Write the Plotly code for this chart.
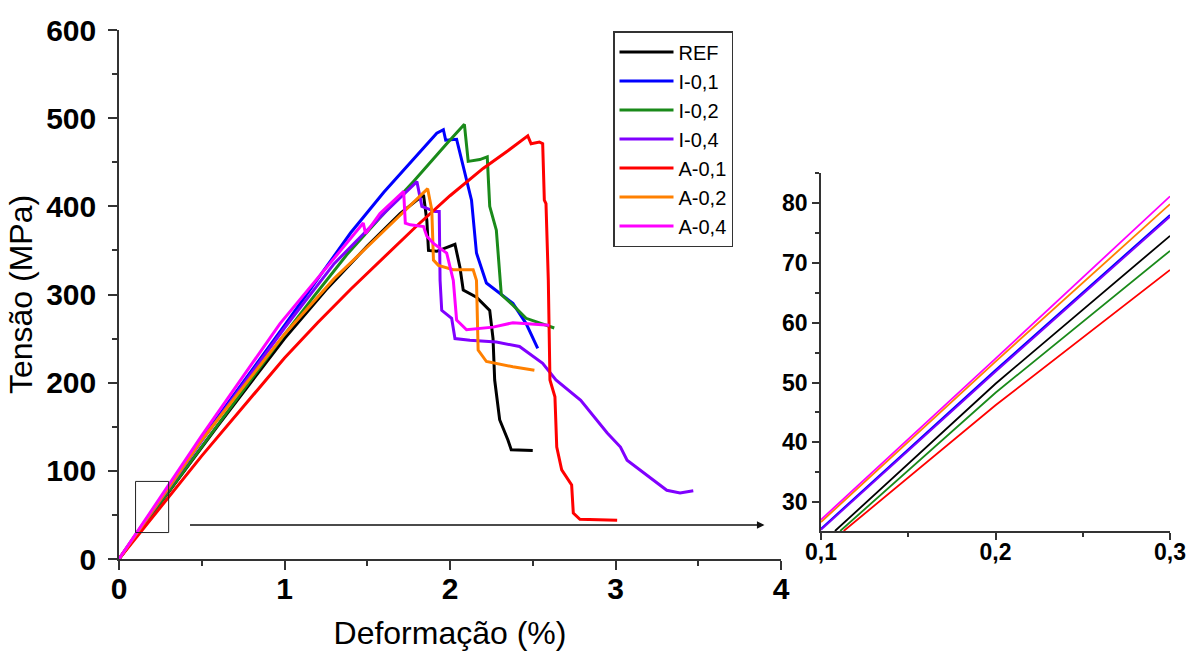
import plotly.graph_objects as go

# ---------------- data ----------------
series_names = ["REF", "I-0,1", "I-0,2", "I-0,4", "A-0,1", "A-0,2", "A-0,4"]
series_colors = ["#000000", "#0000FF", "#1A8A1A", "#8000FF", "#FF0000", "#FF8000", "#FF00FF"]

ref_x = [0, 0.6, 1.0, 1.25, 1.5, 1.7, 1.84, 1.86, 1.87, 1.92, 2.03, 2.06, 2.08, 2.16, 2.24, 2.26, 2.27, 2.30, 2.35, 2.37, 2.50]
ref_y = [0, 152, 250, 305, 355, 392, 413, 384, 350, 349, 357, 331, 305, 297, 282, 250, 203, 158, 135, 124, 123]

i01_x = [0, 0.5, 1.0, 1.2, 1.4, 1.6, 1.8, 1.92, 1.96, 1.974, 2.04, 2.07, 2.13, 2.16, 2.22, 2.38, 2.46, 2.53]
i01_y = [0, 136, 265, 318, 370, 416, 458, 483, 487, 475, 476, 454, 407, 347, 313, 290, 267, 239]

i02_x = [0, 0.5, 0.973, 1.174, 1.376, 1.577, 1.778, 1.98, 2.087, 2.11, 2.18, 2.225, 2.24, 2.28, 2.30, 2.31, 2.38, 2.46, 2.63]
i02_y = [0, 128, 248, 297, 345, 387, 428, 471, 493, 451, 453, 456, 400, 373, 316, 300, 288, 273, 262]

i04_x = [0, 0.5, 1.0, 1.3, 1.6, 1.74, 1.80, 1.83, 1.91, 1.935, 1.94, 1.95, 2.01, 2.03, 2.12, 2.28, 2.42, 2.56, 2.64, 2.79, 2.95, 3.03, 3.07, 3.31, 3.39, 3.47]
i04_y = [0, 134, 262, 335, 392, 418, 428, 400, 394, 394, 316, 282, 273, 250, 248, 246, 241, 222, 203, 180, 143, 127, 112, 78, 75, 77.5]

a01_x = [0, 0.5, 1.0, 1.2, 1.4, 1.6, 1.8, 2.0, 2.2, 2.35, 2.47, 2.49, 2.54, 2.56, 2.57, 2.58, 2.594, 2.604, 2.634, 2.645, 2.675, 2.735, 2.745, 2.785, 3.01]
a01_y = [0, 117, 228, 268, 306, 342, 378, 412, 443, 463, 480, 471, 473, 471, 407, 403, 316, 203, 184, 127, 101, 84, 52, 45, 44]

a02_x = [0, 0.5, 1.0, 1.3, 1.6, 1.865, 1.89, 1.90, 1.93, 2.02, 2.14, 2.16, 2.17, 2.22, 2.38, 2.51]
a02_y = [0, 135, 255, 318, 372, 420, 396, 339, 333, 328, 328, 316, 237, 224, 218, 214]

a04_x = [0, 0.5, 0.973, 1.174, 1.376, 1.476, 1.49, 1.577, 1.72, 1.73, 1.76, 1.84, 1.86, 1.90, 1.98, 2.02, 2.04, 2.10, 2.26, 2.38, 2.60]
a04_y = [0, 140, 267, 313, 358, 381, 369, 392, 417, 381, 379, 377, 366, 358, 347, 316, 271, 260, 263, 268, 265]

# inset (zoom of the initial linear region)
in_ref_x = [0.108, 0.2, 0.3]
in_ref_y = [25.2, 49.8, 74.5]
in_i01_x = [0.1, 0.2, 0.3]
in_i01_y = [25.6, 52.1, 78.0]
in_i02_x = [0.111, 0.2, 0.3]
in_i02_y = [25.2, 48.3, 72.0]
in_i04_x = [0.1, 0.2, 0.3]
in_i04_y = [25.4, 51.8, 77.7]
in_a01_x = [0.113, 0.2, 0.3]
in_a01_y = [25.2, 46.2, 68.8]
in_a02_x = [0.1, 0.2, 0.3]
in_a02_y = [26.7, 53.5, 79.8]
in_a04_x = [0.1, 0.2, 0.3]
in_a04_y = [27.1, 54.0, 81.1]

main_xticks = [0, 1, 2, 3, 4]
main_yticks = [0, 100, 200, 300, 400, 500, 600]
inset_xticks = [0.1, 0.2, 0.3]
inset_xticklabels = ["0,1", "0,2", "0,3"]
inset_yticks = [30, 40, 50, 60, 70, 80]

main_series = [(ref_x, ref_y), (i01_x, i01_y), (i02_x, i02_y), (i04_x, i04_y),
               (a01_x, a01_y), (a02_x, a02_y), (a04_x, a04_y)]
inset_series = [(in_ref_x, in_ref_y), (in_i01_x, in_i01_y), (in_i02_x, in_i02_y), (in_i04_x, in_i04_y),
                (in_a01_x, in_a01_y), (in_a02_x, in_a02_y), (in_a04_x, in_a04_y)]

FONT = "Liberation Sans, Arial, sans-serif"
AX = "#333333"

fig = go.Figure()
for name, col, (xs, ys) in zip(series_names, series_colors, main_series):
    fig.add_trace(go.Scatter(x=xs, y=ys, mode="lines", name=name,
                             line=dict(color=col, width=3), xaxis="x", yaxis="y"))
for name, col, (xs, ys) in zip(series_names, series_colors, inset_series):
    fig.add_trace(go.Scatter(x=xs, y=ys, mode="lines", name=name, showlegend=False,
                             line=dict(color=col, width=1.8), xaxis="x2", yaxis="y2"))

W, H = 1189, 659

common = dict(showgrid=False, zeroline=False, showline=True, linecolor=AX, linewidth=1.5,
              ticks="outside", tickcolor=AX, tickwidth=1.5, automargin=False)

fig.update_layout(
    width=W, height=H,
    margin=dict(l=0, r=0, t=0, b=0),
    paper_bgcolor="white", plot_bgcolor="white",
    template="none",
    font=dict(family=FONT, color="#000000"),
    xaxis=dict(domain=[119 / W, 781 / W], range=[0, 4], tickvals=main_xticks, ticklen=9,
               ticklabelstandoff=-7,
               tickfont=dict(size=30, weight="bold", family=FONT),
               minor=dict(tickvals=[0.5, 1.5, 2.5, 3.5], ticklen=5, ticks="outside", tickcolor=AX, tickwidth=1.5),
               title=dict(text="Deformação (%)", font=dict(size=32, family=FONT), standoff=18),
               anchor="y", **common),
    yaxis=dict(domain=[100 / H, 629 / H], range=[0, 600], tickvals=main_yticks, ticklen=9,
               ticklabelstandoff=6,
               tickfont=dict(size=30, weight="bold", family=FONT),
               minor=dict(tickvals=[50, 150, 250, 350, 450, 550], ticklen=5, ticks="outside", tickcolor=AX, tickwidth=1.5),
               title=dict(text="Tensão (MPa)", font=dict(size=32, family=FONT), standoff=4),
               anchor="x", **common),
    xaxis2=dict(domain=[821 / W, 1170 / W], range=[0.1, 0.3], tickvals=inset_xticks, ticktext=inset_xticklabels,
                ticklen=7, ticklabelstandoff=-7, tickfont=dict(size=23, weight="bold", family=FONT),
                minor=dict(tickvals=[0.15, 0.25], ticklen=4, ticks="outside", tickcolor=AX, tickwidth=1.5),
                anchor="y2", **common),
    yaxis2=dict(domain=[128 / H, 486 / H], range=[25.2, 85], tickvals=inset_yticks,
                ticklen=7, ticklabelstandoff=0, tickfont=dict(size=23, weight="bold", family=FONT),
                minor=dict(tickvals=[35, 45, 55, 65, 75, 85], ticklen=4, ticks="outside", tickcolor=AX, tickwidth=1.5),
                anchor="x2", **common),
    legend=dict(x=613 / W, y=1 - 31 / H, xanchor="left", yanchor="top",
                bordercolor=AX, borderwidth=1.5, bgcolor="white",
                font=dict(size=20, family=FONT), itemwidth=54, tracegroupgap=0),
    showlegend=True,
)

# zoom box on main plot
fig.add_shape(type="rect", xref="x", yref="y", x0=0.1, x1=0.3, y0=30, y1=88,
              line=dict(color="#222222", width=1))
# arrow pointing to inset
fig.add_annotation(xref="x", yref="y", axref="x", ayref="y", x=3.9, y=38.6, ax=0.42, ay=38.6,
                   showarrow=True, arrowhead=2, arrowsize=1, arrowwidth=1.5, arrowcolor="#111111", text="")

fig.write_html("out.html", config={"displayModeBar": False},
               post_script="document.body.style.margin='0px';")
